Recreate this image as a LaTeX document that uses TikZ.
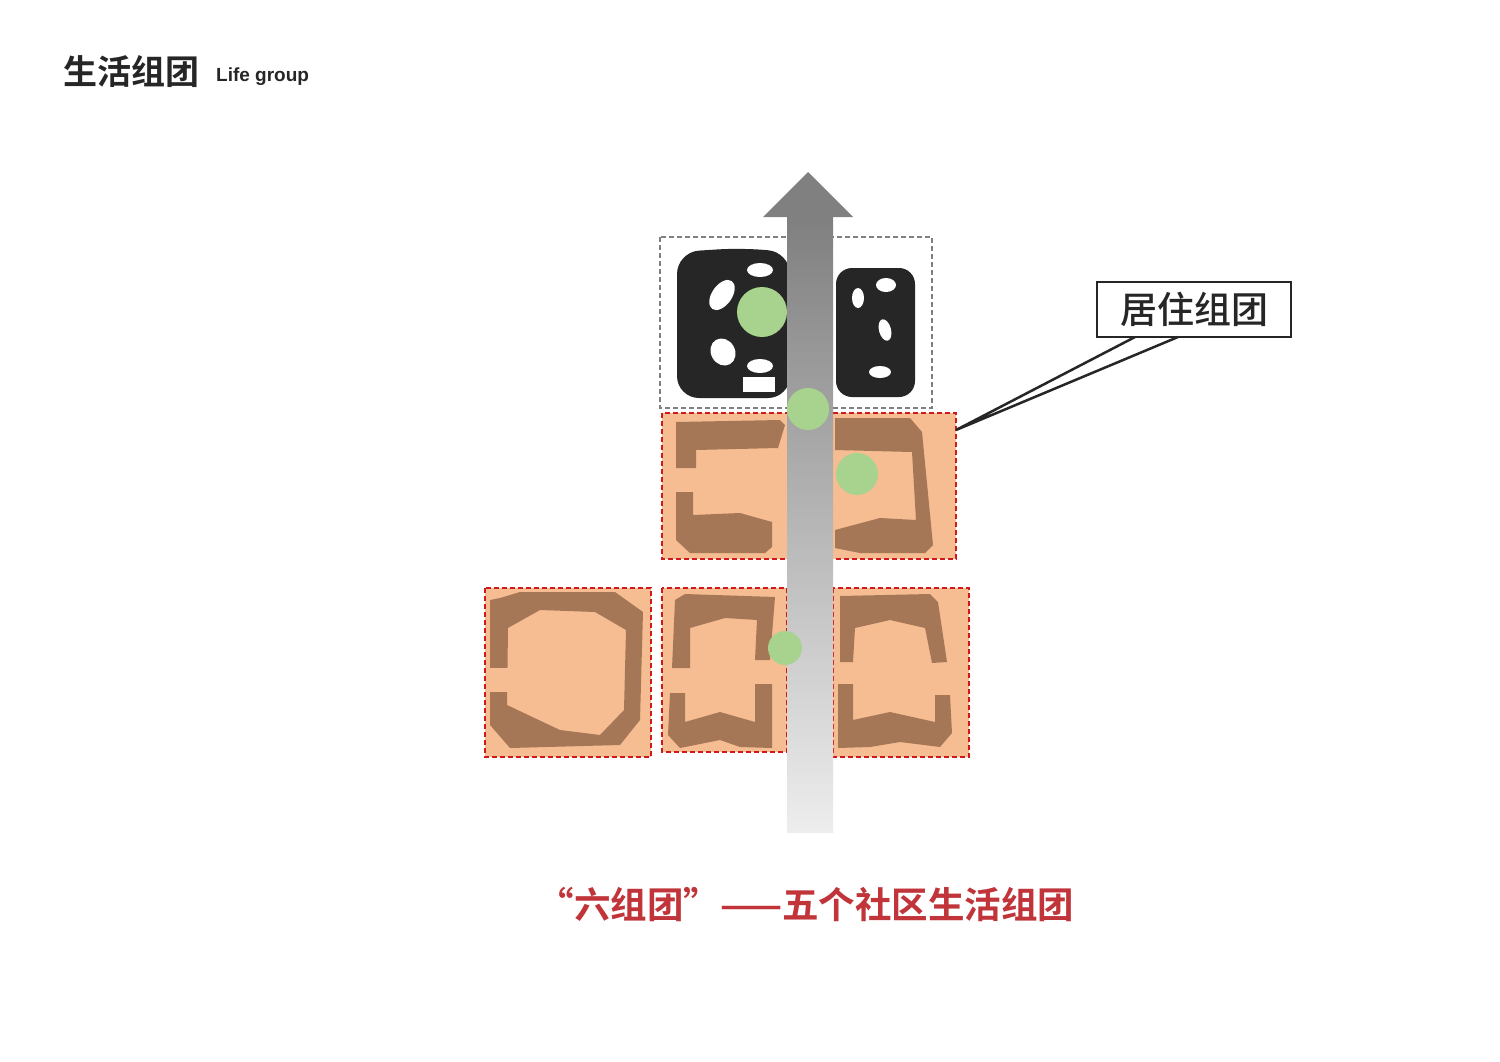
\documentclass[tikz,border=0pt]{standalone}
\usepackage{fontspec}
\newfontfamily\cjk{Noto Sans CJK SC Medium}
\newfontfamily\cjkb{Noto Sans CJK SC Bold}
\begin{document}
\begin{tikzpicture}[x=1pt,y=-1pt,
  blk/.style={draw=red!80!black!90,line width=2.6pt,dash pattern=on 5pt off 3pt,fill=peach},
  bld/.style={fill=brownb},
  grn/.style={fill=greenc},
  hole/.style={fill=white}]
\definecolor{peach}{HTML}{F6BC92}
\definecolor{brownb}{HTML}{A67756}
\definecolor{greenc}{HTML}{A8D38F}
\definecolor{darkb}{HTML}{262626}
\definecolor{redt}{HTML}{C0343A}
\useasboundingbox (0,0) rectangle (1500,1061);
\fill[white] (0,0) rectangle (1500,1061);
% title
\node[anchor=west,inner sep=0pt,font=\cjkb\fontsize{34}{34}\selectfont,text=darkb] (title) at (63,72) {生活组团};
\node[anchor=west,inner sep=0pt,font=\fontspec{Liberation Sans}\bfseries\fontsize{19}{19}\selectfont,text=darkb] (sub) at (216,77) {Life group};
% top grey box
\draw[gray,line width=2.2pt,dash pattern=on 5pt off 3pt] (660,237) rectangle (932,408);
% black blobs
\fill[darkb,rounded corners=22pt] (677,252) -- (740,248) -- (790,252) -- (790,398) -- (677,398) -- cycle;
\fill[hole,rotate around={-35:(722,295)}] (722,295) ellipse (10pt and 17pt);
\fill[hole] (760,270) ellipse (13pt and 7pt);
\fill[hole,rotate around={30:(723,352)}] (723,352) ellipse (12pt and 14pt);
\fill[hole] (760,366) ellipse (13pt and 7pt);
\fill[hole] (743,377) rectangle (775,392);
\fill[darkb,rounded corners=16pt] (836,268) rectangle (915,397);
\fill[hole] (886,285) ellipse (10pt and 7pt);
\fill[hole,rotate around={15:(885,330)}] (885,330) ellipse (6pt and 11pt);
\fill[hole] (880,372) ellipse (11pt and 6pt);
\fill[hole] (858,298) ellipse (6pt and 10pt);
% middle block
\draw[blk] (662,413) rectangle (956,559);
\node[coordinate] (mb) at (956,430) {};
\fill[bld] (676,422) -- (780,420) -- (785,425) -- (778,448) -- (696,450) -- (696,468) -- (676,468) -- cycle;
\fill[bld] (676,492) -- (693,492) -- (693,515) -- (740,513) -- (772,522) -- (772,547) -- (765,553) -- (690,553) -- (676,540) -- cycle;
\fill[bld] (835,418) -- (910,418) -- (922,432) -- (933,545) -- (925,553) -- (860,553) -- (835,548) -- (835,530) -- (880,518) -- (916,520) -- (912,452) -- (835,450) -- cycle;
% bottom left block
\draw[blk] (485,588) rectangle (651,757);
\fill[bld,even odd rule] (500,598) -- (520,592) -- (615,592) -- (643,612) -- (640,720) -- (620,745) -- (510,748) -- (490,725) -- (490,600) -- cycle
  (508,628) -- (540,610) -- (595,612) -- (626,630) -- (624,710) -- (600,735) -- (560,730) -- (507,705) -- cycle;
\fill[peach] (488,668) rectangle (510,692);
% bottom middle block
\draw[blk] (662,588) rectangle (787,752);
\fill[bld] (675,600) -- (685,594) -- (775,597) -- (770,660) -- (755,660) -- (757,620) -- (725,618) -- (690,628) -- (690,668) -- (672,668) -- cycle;
\fill[bld] (670,693) -- (685,693) -- (685,722) -- (720,712) -- (755,722) -- (755,684) -- (772,684) -- (772,748) -- (740,747) -- (720,740) -- (680,748) -- (668,735) -- cycle;
% bottom right block
\draw[blk] (833,588) rectangle (969,757);
\fill[bld] (840,596) -- (930,594) -- (938,602) -- (947,662) -- (932,663) -- (925,628) -- (890,620) -- (855,628) -- (853,662) -- (840,662) -- cycle;
\fill[bld] (838,684) -- (853,684) -- (853,720) -- (890,712) -- (935,722) -- (935,695) -- (950,695) -- (952,733) -- (940,747) -- (900,742) -- (870,747) -- (838,748) -- cycle;
% arrow
\shade[top color=black!50,bottom color=black!7] (787,217) rectangle (833,832);
\fill[black!50] (763,217) -- (808,172) -- (853,217) -- cycle;
% green dots
\fill[grn] (762,312) circle (25pt);
\fill[grn] (808,409) circle (21pt);
\fill[grn] (857,474) circle (21pt);
\fill[grn] (785,648) circle (17pt);
% callout
\node[draw=darkb,line width=2.5pt,font=\cjk\fontsize{37}{37}\selectfont,text=darkb,minimum width=194pt,minimum height=55pt,inner sep=0pt] (lab) at (1194,309.5) {居住组团};
\coordinate (c1) at (1135,337);
\coordinate (c2) at (1178,337);
\draw[darkb,line width=2.5pt,line join=miter] (c1) -- (mb) -- (c2);
% caption
\node[font=\cjkb\fontsize{36.5}{36.5}\selectfont,text=redt] (cap) at (806,904) {“六组团”——五个社区生活组团};
\end{tikzpicture}
\end{document}
